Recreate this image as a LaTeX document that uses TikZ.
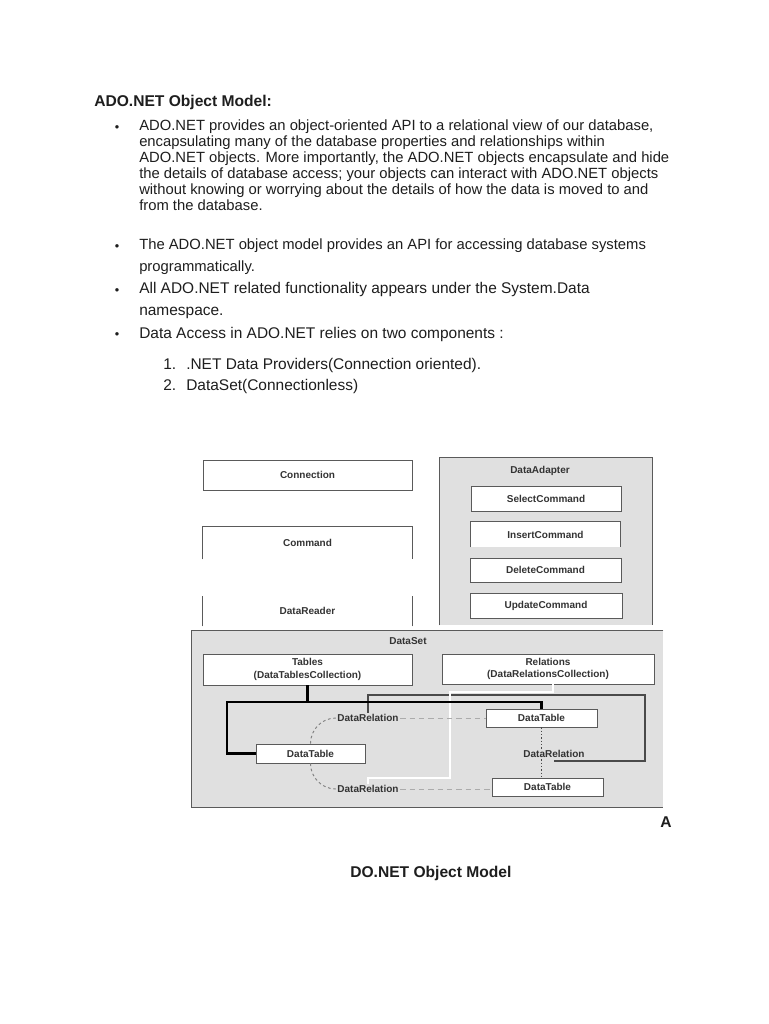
\documentclass[tikz,border=0pt]{standalone}
\usepackage{fontspec}
\setmainfont{Liberation Sans}
\usetikzlibrary{calc}
\definecolor{txt}{HTML}{1E1E1E}
\definecolor{dtext}{HTML}{333333}
\definecolor{panel}{HTML}{E0E0E0}
\definecolor{boxline}{HTML}{5A5A5A}
\definecolor{dashgray}{HTML}{ABABAB}
\definecolor{brkgray}{HTML}{4A4A4A}
\newcommand\dfont{\fontsize{7.5}{9.5}\selectfont\bfseries}
\newcommand\pxnode[7]{\node[#2, minimum width={(#5-#3)*0.75pt}, minimum height={(#6-#4)*0.75pt}] (#1) at ({(#3+#5)/2},{(#4+#6)/2}) {#7};}
\tikzset{
  para/.style={anchor=north west, inner sep=0, align=left, text=txt, font=\fontsize{11.1}{12}\selectfont},
  paraw/.style={para, font=\fontsize{11.1}{16.5}\selectfont},
  line/.style={anchor=base west, inner sep=0, text=txt, font=\fontsize{11.6}{12}\selectfont},
  bline/.style={line, font=\fontsize{11.7}{12}\selectfont\bfseries},
  bul/.style={anchor=base, inner sep=0, text=txt, font=\fontsize{9.5}{12}\selectfont},
  wbox/.style={draw=boxline, fill=white, inner sep=0, font=\dfont, text=dtext, line width=0.6pt},
  nbox/.style={fill=white, inner sep=0, font=\dfont, text=dtext},
  gpanel/.style={fill=panel, inner sep=0},
  lbl/.style={inner sep=1pt, font=\dfont, text=dtext},
  edge/.style={draw=boxline, line width=0.6pt},
  blk/.style={draw=black, line width=2pt},
  wht/.style={draw=white, line width=2pt},
  brk/.style={draw=brkgray, line width=0.9pt},
  dsh/.style={draw=dashgray, line width=0.7pt, dash pattern=on 4pt off 3pt},
  dsh2/.style={draw=gray, line width=0.7pt, dash pattern=on 2pt off 2pt},
  dotl/.style={draw=brkgray, line width=0.9pt, dash pattern=on 1pt off 1.5pt}
}
\begin{document}
\begin{tikzpicture}[x=0.75pt,y=-0.75pt]
\useasboundingbox[fill=white] (0,0) rectangle (768,1024);

% ---------- text ----------
\node[bline] (head) at (94,106) {ADO.NET Object Model:};

\node[bul] (u1) at (117,131) {\textbullet};
\node[para] (p1) at (139,120) {ADO.NET provides an object-oriented API to a relational view of our database,\\
encapsulating many of the database properties and relationships within\\
ADO.NET objects. More importantly, the ADO.NET objects encapsulate and hide\\
the details of database access; your objects can interact with ADO.NET objects\\
without knowing or worrying about the details of how the data is moved to and\\
from the database.};

\node[bul] (u2) at (117,250) {\textbullet};
\node[paraw] (p2) at (139,239) {The ADO.NET object model provides an API for accessing database systems\\programmatically.};

\node[bul] (u3) at (117,294) {\textbullet};
\node[paraw, font=\fontsize{11.6}{16.5}\selectfont] (p3) at (139,282) {All ADO.NET related functionality appears under the System.Data\\namespace.};

\node[bul] (u4) at (117,338) {\textbullet};
\node[line] (p4) at (139,338) {Data Access in ADO.NET relies on two components :};

\node[line] (n1) at (163,369) {1.};
\node[line] (t1) at (186,369) {.NET Data Providers(Connection oriented).};
\node[line] (n2) at (163,390) {2.};
\node[line] (t2) at (186,390) {DataSet(Connectionless)};

% ---------- provider column ----------
\pxnode{conn}{wbox}{203}{460}{412}{490}{Connection}
\pxnode{cmd}{nbox}{203}{527}{412}{559}{Command}
\draw[edge] (cmd.south west) -- (cmd.north west) -- (cmd.north east) -- (cmd.south east);
\pxnode{rdr}{nbox}{203}{596}{412}{626}{DataReader}
\draw[edge] (rdr.south west) -- (rdr.north west);
\draw[edge] (rdr.south east) -- (rdr.north east);

% ---------- DataAdapter ----------
\pxnode{da}{gpanel}{440}{458}{652}{625}{}
\draw[edge] (da.south west) -- (da.north west) -- (da.north east) -- (da.south east);
\node[lbl] (daT) at (540,471) {DataAdapter};
\pxnode{sel}{wbox}{471}{486}{621}{511}{SelectCommand}
\pxnode{ins}{nbox}{471}{522}{620}{547}{InsertCommand}
\draw[edge] (ins.south west) -- (ins.north west) -- (ins.north east) -- (ins.south east);
\pxnode{del}{wbox}{470}{558}{621}{582}{DeleteCommand}
\pxnode{upd}{wbox}{470}{593}{622}{618}{UpdateCommand}

% ---------- DataSet ----------
\pxnode{ds}{gpanel}{192}{631}{663}{807}{}
\draw[edge] (ds.north east) -- (ds.north west) -- (ds.south west) -- (ds.south east);
\node[lbl] (dsT) at (408,641) {DataSet};
\pxnode{tab}{wbox, align=center}{203}{654}{412}{685}{Tables\\(DataTablesCollection)}
\pxnode{rel}{wbox, align=center}{442}{654}{654}{684}{Relations\\(DataRelationsCollection)}

\pxnode{dtL}{wbox}{256}{744}{365}{763}{DataTable}
\pxnode{dtR}{wbox}{486}{709}{597}{727}{DataTable}
\pxnode{dtB}{wbox}{492}{778}{603}{796}{DataTable}

\node[lbl] (drA) at (368,718) {DataRelation};
\node[lbl] (drB) at (554,754) {DataRelation};
\node[lbl] (drC) at (368,789) {DataRelation};

\coordinate (bl) at (227,702);
\coordinate (gc) at (645,695);
\coordinate (gd) at (645,761);
\coordinate (wa) at (450,692);
\coordinate (wb) at (450,778);
\coordinate (ws) at (553,684);

% relations bracket
\draw[brk] (drA.north) |- (gc) -- (gd) -- (gd -| drB.south);
% white line
\draw[wht] (ws) |- (wa) -- (wb) -| (drC.north);
% black tables tree
\draw[blk] (tab.south) -- (tab.south |- bl);
\draw[blk] (dtL.west) -| (bl) -| (dtR.north);
% dashed relation lines
\draw[dsh] (drA.east) -- (dtR.west);
\draw[dsh] (drC.east) -- (drC.east -| dtB.west);
\draw[dsh2] (drA.west) to[out=180,in=90] (dtL.north);
\draw[dsh2] (dtL.south) to[out=-90,in=180] (drC.west);
% dotted
\draw[dotl] (dtR.south) -- (drB.north -| dtR.south);
\draw[dotl] (drB.south -| dtR.south) -- (dtB.north -| dtR.south);

% ---------- caption ----------
\node[bline] (capA) at (660,827) {A};
\node[bline] (cap) at (350,877) {DO.NET Object Model};
\end{tikzpicture}
\end{document}
